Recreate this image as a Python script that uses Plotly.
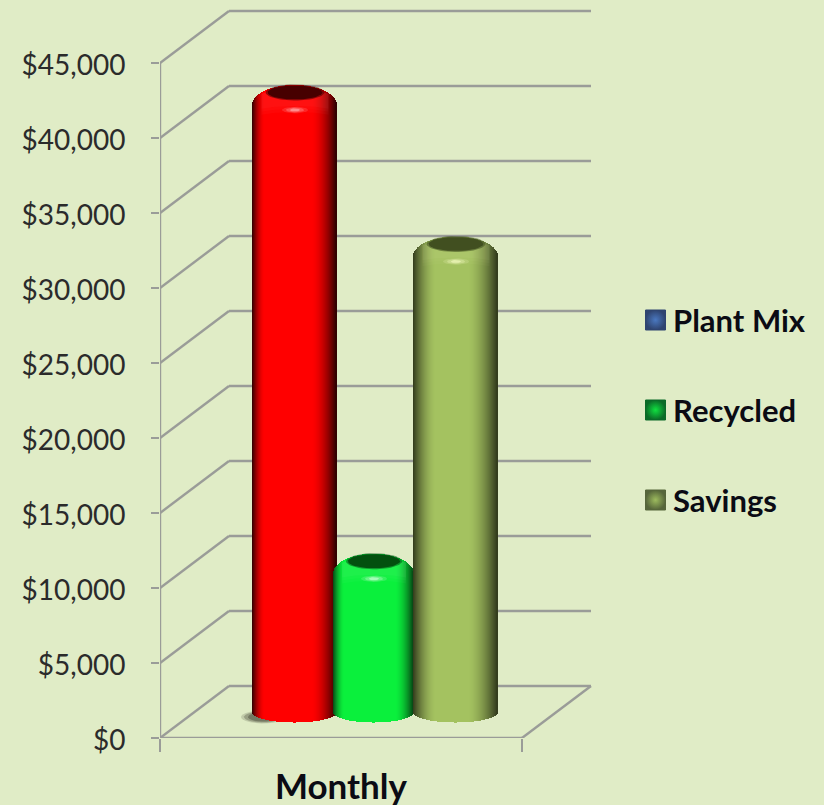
import numpy as np
import plotly.graph_objects as go

# ---- data
categories = ["Monthly"]
series_names = ["Plant Mix", "Recycled", "Savings"]
plant_mix = [41000]
recycled = [9750]
savings = [30900]
y_ticks = [0, 5000, 10000, 15000, 20000, 25000, 30000, 35000, 40000, 45000]
y_tick_labels = ["$0", "$5,000", "$10,000", "$15,000", "$20,000", "$25,000",
                 "$30,000", "$35,000", "$40,000", "$45,000"]

# ---- styles / pseudo-3D geometry (x axis unit = 1 px, y axis: 0.015 px per $)
BG = "#E0ECC6"
GRID = "#9A9C98"
PX = 1 / 0.015           # dollars per pixel
W, H = 824, 805
AX_LEFT, AX_RIGHT = 160, 522
DX, DY = 69, 52 * PX     # depth of the box
FLOOR = 26 * PX          # the cylinders stand half way into the box
ELL = 10.5 * PX

styles = [
    dict(x0=253, x1=337, base=(255, 0, 0), edge=(45, 0, 0), cap="#470000", rim="rgba(70,0,0,0.55)",
         left=-0.70, right=0.42, hi="255,190,190"),
    dict(x0=334, x1=414, base=(10, 240, 60), edge=(5, 70, 20), cap="#03500F", rim="rgba(0,80,20,0.55)",
         left=-0.72, right=0.55, hi="220,255,225"),
    dict(x0=414, x1=498, base=(164, 194, 96), edge=(50, 58, 28), cap="#414F20", rim="rgba(60,75,30,0.55)",
         left=-0.45, right=0.30, hi="250,255,200"),
]
legend_styles = [
    dict(dark="#2F4470", light="#4A78C0", y=320),
    dict(dark="#0B6B28", light="#10E040", y=410),
    dict(dark="#56663A", light="#9DBB5E", y=500),
]

values = [plant_mix[0], recycled[0], savings[0]]


def mix(a, b, t):
    return tuple(int(round(a[i] + (b[i] - a[i]) * t)) for i in range(3))


def shade(u, st):
    # 0 in the lit middle of the cylinder, 1 on its edges
    if u < st["left"]:
        t = (u - st["left"]) / (-1 - st["left"])
    elif u > st["right"]:
        t = (u - st["right"]) / (1 - st["right"])
    else:
        t = 0.0
    return min(1.0, t) ** 1.7


def ellipse(cx, cy, a, b, n=48):
    t = np.linspace(0, 2 * np.pi, n)
    return cx + a * np.cos(t), cy + b * np.sin(t)


fig = go.Figure()

# ---- box behind the bars
shapes = []
line = dict(color=GRID, width=2.4)
for v in y_ticks:
    shapes.append(dict(type="line", layer="below", xref="x", yref="y",
                       x0=AX_LEFT + DX, x1=AX_RIGHT + DX, y0=v + DY, y1=v + DY, line=line))
    shapes.append(dict(type="line", layer="below", xref="x", yref="y",
                       x0=AX_LEFT, x1=AX_LEFT + DX, y0=v, y1=v + DY, line=line))
shapes.append(dict(type="line", layer="below", xref="x", yref="y", x0=AX_LEFT, x1=AX_LEFT,
                   y0=y_ticks[0], y1=y_ticks[-1], line=line))
shapes.append(dict(type="line", layer="below", xref="x", yref="y", x0=AX_LEFT, x1=AX_RIGHT,
                   y0=0, y1=0, line=line))
shapes.append(dict(type="line", layer="below", xref="x", yref="y", x0=AX_RIGHT, x1=AX_RIGHT + DX,
                   y0=0, y1=DY, line=line))
# soft contact shadow left of the first cylinder
for a, b, alpha in [(22, 6.5, 0.18), (19, 5.5, 0.3), (15, 4.5, 0.4)]:
    ex, ey = ellipse(263, FLOOR - 5 * PX, a, b * PX, 24)
    shapes.append(dict(type="path", layer="below", xref="x", yref="y",
                       path="M" + " L".join(f"{p:.1f},{q:.1f}" for p, q in zip(ex, ey)) + " Z",
                       fillcolor=f"rgba(60,60,45,{alpha})", line=dict(width=0)))

# ---- cylinders: each one is a fan of thin bars
for name, value, st in zip(series_names, values, styles):
    n = int(st["x1"] - st["x0"])
    xs = np.linspace(st["x0"] + 0.5, st["x1"] - 0.5, n)
    cx = (st["x0"] + st["x1"]) / 2
    half = (st["x1"] - st["x0"]) / 2
    us = (xs - cx) / half
    bottoms = FLOOR - ELL * np.sqrt(1 - us ** 2)
    level = FLOOR + value
    tops = level - 8 * PX + 20 * PX * np.sqrt(1 - us ** 2)
    colors = ["rgb(%d,%d,%d)" % mix(st["base"], st["edge"], shade(u, st)) for u in us]
    fig.add_trace(go.Bar(x=xs, y=tops - bottoms, base=bottoms, width=1.25, name=name,
                         marker=dict(color=colors, line=dict(width=0)),
                         showlegend=False, hoverinfo="skip"))

# ---- top caps and highlights
for value, st in zip(values, styles):
    cx = (st["x0"] + st["x1"]) / 2
    half = (st["x1"] - st["x0"]) / 2
    level = FLOOR + value
    # faint lighter bevel bands under the cap
    t = np.linspace(-0.8, 0.8, 40)
    for drop, alpha in [(22, 0.03), (19, 0.03), (16, 0.04)]:
        upper = level - 4 * PX + 12 * PX * np.sqrt(1 - t ** 2)
        lower = level - drop * PX + 7 * PX * np.sqrt(1 - t ** 2)
        fig.add_trace(go.Scatter(x=np.r_[cx + half * t, (cx + half * t)[::-1]], y=np.r_[upper, lower[::-1]],
                                 mode="lines", line=dict(width=0), fill="toself",
                                 fillcolor=f"rgba({st['hi']},{alpha})", showlegend=False, hoverinfo="skip"))
    # dark top face
    for a, b, col in [(0.70, 8.0, st["rim"]), (0.65, 7, st["cap"])]:
        ex, ey = ellipse(cx, level + 4.5 * PX, half * a, b * PX)
        fig.add_trace(go.Scatter(x=ex, y=ey, mode="lines", line=dict(width=0), fill="toself",
                                 fillcolor=col, showlegend=False, hoverinfo="skip"))
    # specular spot
    for a, b, alpha in [(13, 3.2, 0.18), (9, 2.4, 0.3), (5, 1.5, 0.55)]:
        ex, ey = ellipse(cx, level - 13 * PX, a, b * PX, 24)
        fig.add_trace(go.Scatter(x=ex, y=ey, mode="lines", line=dict(width=0), fill="toself",
                                 fillcolor=f"rgba({st['hi']},{alpha})", showlegend=False, hoverinfo="skip"))

# ---- legend (Plant Mix keeps its blue key, as in the source chart)
annotations = []
for name, ls in zip(series_names, legend_styles):
    yv = (738 - ls["y"]) * PX
    fig.add_trace(go.Scatter(x=[655.5], y=[yv], mode="markers", showlegend=False, hoverinfo="skip",
                             marker=dict(symbol="square", size=20, color=ls["dark"],
                                         gradient=dict(type="radial", color=ls["light"]),
                                         line=dict(width=1, color=ls["dark"]))))
    annotations.append(dict(x=671, y=yv, xref="x", yref="y", text=f"<b>{name}</b>", showarrow=False,
                            xanchor="left", yanchor="middle",
                            font=dict(family="Lato, Carlito, sans-serif", size=31, color="#0B0B14")))

fig.update_layout(
    width=W, height=H, autosize=False,
    margin=dict(l=AX_LEFT, r=0, t=0, b=H - 738, pad=0),
    paper_bgcolor=BG, plot_bgcolor=BG,
    barmode="overlay", bargap=0,
    shapes=shapes, annotations=annotations, showlegend=False,
    xaxis=dict(range=[AX_LEFT, W], showgrid=False, zeroline=False, showline=False,
               tickmode="array", tickvals=[(AX_LEFT + AX_RIGHT) / 2], ticktext=categories,
               ticks="", ticklabelstandoff=25,
               tickfont=dict(family="Lato, Carlito, sans-serif", size=35, color="#0B0B14", weight="bold"),
               minor=dict(tickmode="array", tickvals=[AX_LEFT, AX_RIGHT], ticks="outside", ticklen=13,
                          tickwidth=2, tickcolor=GRID, showgrid=False)),
    yaxis=dict(range=[0, 738 * PX], showgrid=False, zeroline=False, showline=False,
               tickmode="array", tickvals=y_ticks, ticktext=y_tick_labels,
               ticks="outside", ticklen=8, tickwidth=2, tickcolor=GRID, ticklabelstandoff=20,
               ticklabelshift=2,
               tickfont=dict(family="Lato, Carlito, sans-serif", size=28, color="#2B2B2B")),
)

fig.write_html("out.html", config=dict(displayModeBar=False),
               post_script="document.body.style.margin='0';document.body.style.overflow='hidden';")
